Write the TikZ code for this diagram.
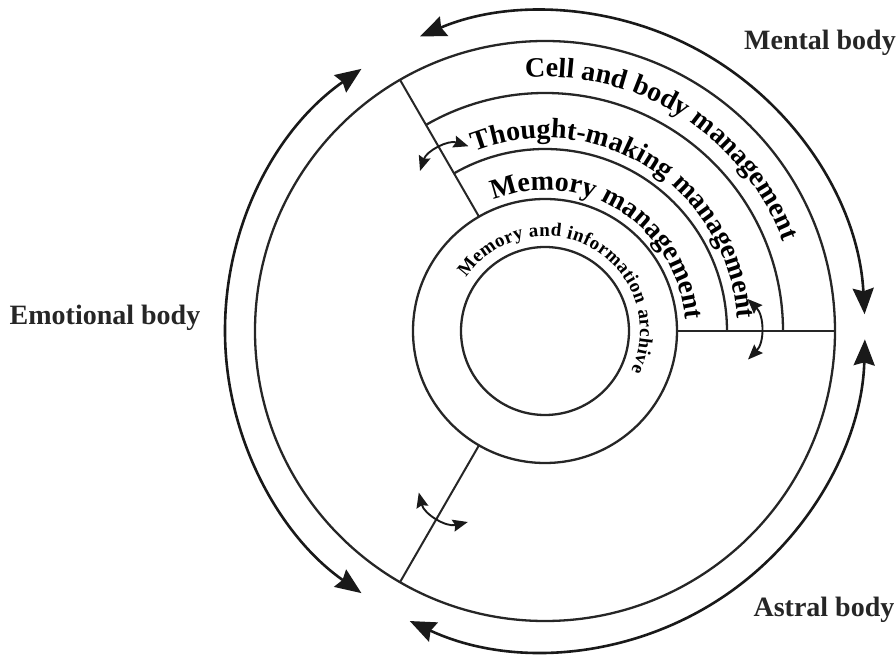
\documentclass[tikz,border=0pt]{standalone}
\usepackage{fontspec}
\setmainfont{Liberation Serif}
\usetikzlibrary{arrows.meta}
\usetikzlibrary{decorations.text}
\newcommand\bodyfont{\bfseries\fontsize{28}{32}\selectfont}
\newcommand\archivefont{\bfseries\fontsize{19}{21}\selectfont}
\tikzset{
	>={Stealth[length=26pt, width=21pt, inset=3pt]},
	ring/.style={black!85, line width=2.3pt},
	divider/.style={black!85, line width=2pt},
	bodyarrow/.style={black!90, line width=2.6pt, <->},
	exchange/.style={black!90, line width=1.9pt, {Stealth[length=15pt, width=12pt, inset=2pt]}-{Stealth[length=15pt, width=12pt, inset=2pt]}},
	bodylabel/.style={black!85, font=\bodyfont},
}

\begin{document}
\begin{tikzpicture}[x=1pt, y=1pt]
	% page frame, centre of the rings at the origin
	\useasboundingbox (-545,-324) rectangle (351,331);
	\coordinate (c) at (0,0);
	
	% core, archive ring and outer circle
	\draw[ring] (c) circle[radius=84];
	\draw[ring] (c) circle[radius=132];
	\draw[ring] (c) circle[radius=290];
	% the mental body is split in three bands
	\foreach \r in {182,238}{
		\draw[ring] (0:\r) arc[start angle=0, end angle=120, radius=\r];
	}
	
	% dividers between the three bodies
	\foreach \a in {0,120,240}{
		\draw[divider] (\a:132) -- (\a:290);
	}
	
	% outer arrows round the bodies
	\foreach \s/\e in {3/113, 125/235, 245/358.5}{
		\draw[bodyarrow] (\s:320) arc[start angle=\s, end angle=\e, radius=320];
	}
	
	% small arrows across the dividers
	\draw[exchange] (128:203) to[bend left=45] (112.5:200);
	\draw[exchange] (9:205) to[bend left=45] (-8:205);
	\draw[exchange] (248:206) to[bend left=45] (232:205);
	
	% band texts
	\path[decorate, decoration={text along path, text align=center,
		text={|\bodyfont|Cell and body management}}]
		(137.5:254) arc[start angle=137.5, end angle=-22.5, radius=254];
	\path[decorate, decoration={text along path, text align=center,
		text={|\bodyfont|Thought-making management}}]
		(137.5:193) arc[start angle=137.5, end angle=-22.5, radius=193];
	\path[decorate, decoration={text along path, text align=center,
		text={|\bodyfont|Memory management}}]
		(138:141) arc[start angle=138, end angle=-22, radius=141];
	\path[decorate, decoration={text along path, text align={fit to path},
		text={|\archivefont|Memory and information archive}}]
		(146:95) arc[start angle=146, end angle=-25, radius=95];
	
	% names of the bodies
	\node[bodylabel] (mental) at (275,288) {Mental body};
	\node[bodylabel] (emotional) at (-440,13) {Emotional body};
	\node[bodylabel] (astral) at (279,-279) {Astral body};
\end{tikzpicture}
\end{document}
